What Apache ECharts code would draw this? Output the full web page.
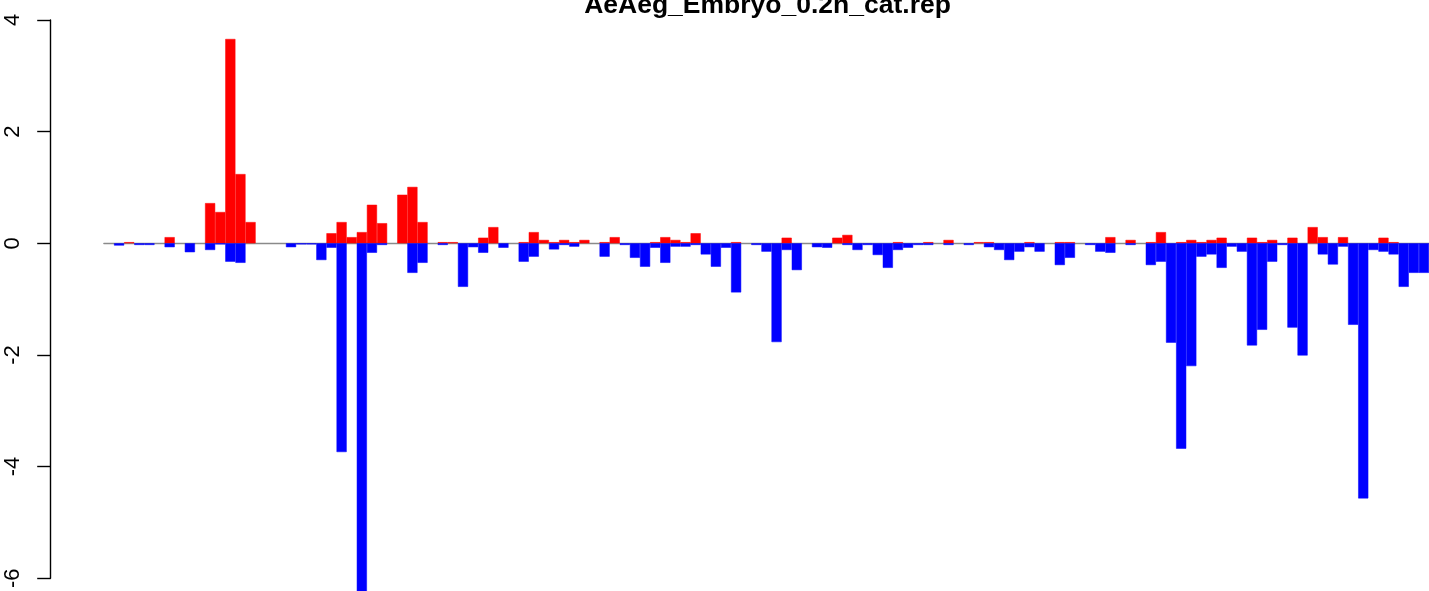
<!DOCTYPE html>
<html>
<head>
<meta charset="utf-8">
<script src="https://cdn.jsdelivr.net/npm/echarts@6/dist/echarts.min.js"></script>
<style>
html,body{margin:0;padding:0;background:#fff;}
#chart{width:1429px;height:591px;}
</style>
</head>
<body>
<div id="chart"></div>
<script>
var titleText = "AeAeg_Embryo_0.2h_cat.rep";
var yTicks = [-6, -4, -2, 0, 2, 4];
var upValues = [
 0, 0, 0.02, 0, 0, 0, 0.11, 0, 0, 0,
 0.72, 0.56, 3.66, 1.24, 0.38, 0, 0, 0, 0, 0,
 0, 0, 0.18, 0.38, 0.11, 0.2, 0.69, 0.36, 0, 0.87,
 1.01, 0.38, 0, 0.02, 0.02, 0, 0, 0.1, 0.29, 0,
 0, 0.02, 0.2, 0.06, 0.02, 0.06, 0.02, 0.06, 0, 0.02,
 0.11, 0, 0, 0, 0.02, 0.11, 0.06, 0.02, 0.18, 0,
 0, 0, 0.02, 0, 0, 0, 0, 0.1, 0, 0,
 0, 0, 0.1, 0.15, 0, 0, 0, 0, 0.02, 0,
 0, 0.02, 0, 0.06, 0, 0, 0.02, 0.02, 0, 0,
 0, 0.02, 0, 0, 0.02, 0.02, 0, 0, 0, 0.11,
 0, 0.06, 0, 0.02, 0.2, 0, 0.02, 0.06, 0.02, 0.06,
 0.1, 0, 0, 0.1, 0.02, 0.06, 0, 0.1, 0, 0.29,
 0.11, 0, 0.11, 0, 0, 0, 0.1, 0.02, 0, 0,
 0
];
var downValues = [
 0, -0.04, 0, -0.03, -0.03, 0, -0.07, 0, -0.16, 0,
 -0.12, -0.02, -0.33, -0.35, 0, 0, 0, 0, -0.07, -0.02,
 -0.02, -0.3, -0.08, -3.74, 0, -6.3, -0.17, -0.03, 0, 0,
 -0.53, -0.35, 0, -0.03, 0, -0.78, -0.07, -0.17, 0, -0.08,
 0, -0.33, -0.24, 0, -0.11, -0.03, -0.06, 0, 0, -0.24,
 0, -0.03, -0.26, -0.42, -0.08, -0.35, -0.06, -0.06, -0.03, -0.2,
 -0.42, -0.08, -0.88, 0, -0.03, -0.15, -1.77, -0.12, -0.48, 0,
 -0.07, -0.08, 0, -0.03, -0.12, -0.03, -0.21, -0.44, -0.12, -0.08,
 -0.03, -0.03, 0, -0.03, 0, -0.03, 0, -0.07, -0.12, -0.3,
 -0.15, -0.07, -0.15, 0, -0.39, -0.26, 0, -0.03, -0.15, -0.17,
 0, -0.03, 0, -0.39, -0.33, -1.78, -3.68, -2.2, -0.24, -0.2,
 -0.44, -0.06, -0.15, -1.83, -1.55, -0.33, -0.03, -1.51, -2.01, 0,
 -0.2, -0.38, -0.06, -1.46, -4.57, -0.12, -0.15, -0.2, -0.78, -0.53,
 -0.53
];
var categories = upValues.map(function (v, i) { return String(i + 1); });
function skipZero(arr) { return arr.map(function (v) { return v === 0 ? '-' : v; }); }

var chart = echarts.init(document.getElementById('chart'), null, {renderer: 'canvas'});
var slot = 10.136;
chart.setOption({
  animation: false,
  backgroundColor: '#ffffff',
  textStyle: {fontFamily: 'Liberation Sans, Arial, sans-serif'},
  graphic: [{
    type: 'text',
    x: 767.5,
    y: 19.5,
    style: {
      text: titleText,
      font: 'bold 26.5px "Liberation Sans", Arial, sans-serif',
      fill: '#000',
      align: 'center',
      verticalAlign: 'bottom'
    },
    z: 10
  }],
  grid: {
    left: 103.9,
    top: 20,
    width: slot * categories.length,
    height: 558.3,
    containLabel: false
  },
  xAxis: {
    type: 'category',
    data: categories,
    boundaryGap: true,
    axisLine: {show: true, onZero: true, lineStyle: {color: '#8a8a8a', width: 1.4}},
    axisTick: {show: false},
    axisLabel: {show: false},
    splitLine: {show: false}
  },
  yAxis: {
    type: 'value',
    min: -6,
    max: 4,
    interval: 2,
    offset: 53.2,
    axisLine: {show: true, lineStyle: {color: '#000', width: 1.4}},
    axisTick: {show: true, length: 13.5, lineStyle: {color: '#000', width: 1.4}},
    axisLabel: {
      show: true,
      rotate: 90,
      margin: 27,
      fontSize: 22,
      color: '#000',
      fontFamily: 'Liberation Sans, Arial, sans-serif',
      formatter: function (v) { return yTicks.indexOf(v) >= 0 ? (v < 0 ? '-' + Math.abs(v) : String(v)) : ''; }
    },
    splitLine: {show: false}
  },
  series: [
    {
      type: 'bar',
      name: 'up',
      data: skipZero(upValues),
      barGap: '-100%',
      barCategoryGap: '0%',
      itemStyle: {color: '#ff0000', borderColor: '#ff0000', borderWidth: 0.5},
      clip: false,
      silent: true
    },
    {
      type: 'bar',
      name: 'down',
      data: skipZero(downValues),
      barGap: '-100%',
      barCategoryGap: '0%',
      itemStyle: {color: '#0000ff', borderColor: '#0000ff', borderWidth: 0.5},
      clip: false,
      silent: true
    }
  ]
});
</script>
</body>
</html>
